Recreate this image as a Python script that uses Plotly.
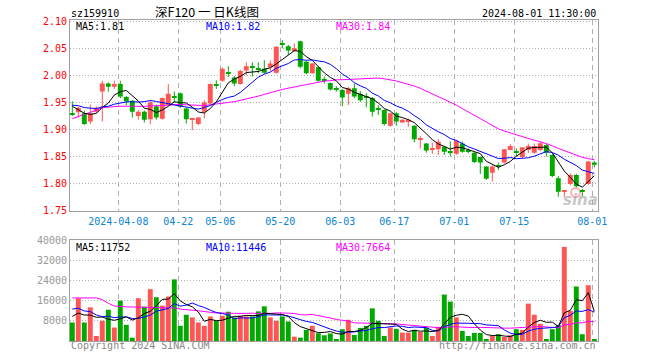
import pandas as pd
import plotly.graph_objects as go

# ---------------- data ----------------
symbol = "sz159910"
title_text = "深F120 一 日K线图"
timestamp = "2024-08-01 11:30:00"

holidays = ["2024-04-04", "2024-04-05", "2024-05-01", "2024-05-02", "2024-05-03", "2024-06-10"]
dates = pd.bdate_range("2024-03-25", "2024-08-01", freq="C", holidays=holidays)

open_ = [1.930, 1.932, 1.930, 1.915, 1.933, 1.970, 1.985, 1.979, 1.984, 1.960,
         1.953, 1.925, 1.933, 1.919, 1.943, 1.920, 1.945, 1.962, 1.967, 1.939,
         1.918, 1.910, 1.933, 1.948, 1.983, 1.990, 2.006, 1.996, 1.984, 2.009,
         2.017, 2.013, 2.012, 2.015, 2.005, 2.059, 2.054, 2.045, 2.063, 2.025,
         2.004, 2.015, 1.992, 1.986, 1.975, 1.973, 1.966, 1.976, 1.966, 1.961,
         1.958, 1.938, 1.936, 1.907, 1.930, 1.913, 1.914, 1.907, 1.881, 1.874,
         1.863, 1.8635, 1.868, 1.858, 1.855, 1.874, 1.861, 1.857, 1.849, 1.8315,
         1.820, 1.832, 1.839, 1.862, 1.859, 1.849, 1.862, 1.857, 1.862, 1.8715,
         1.853, 1.810, 1.785, 1.7995, 1.816, 1.786, 1.7995, 1.839]
high = [1.952, 1.942, 1.935, 1.946, 1.943, 1.990, 1.987, 1.990, 1.990, 1.962,
        1.954, 1.936, 1.935, 1.953, 1.946, 1.959, 1.984, 1.970, 1.968, 1.940,
        1.921, 1.923, 1.954, 1.985, 1.991, 2.015, 2.017, 1.999, 2.010, 2.024,
        2.024, 2.024, 2.028, 2.028, 2.054, 2.065, 2.056, 2.059, 2.064, 2.027,
        2.023, 2.016, 1.998, 1.987, 1.980, 1.975, 1.979, 1.985, 1.971, 1.967,
        1.960, 1.945, 1.937, 1.931, 1.932, 1.919, 1.920, 1.908, 1.888, 1.875,
        1.876, 1.882, 1.870, 1.878, 1.881, 1.878, 1.865, 1.858, 1.850, 1.832,
        1.834, 1.839, 1.864, 1.873, 1.865, 1.867, 1.874, 1.874, 1.878, 1.873,
        1.855, 1.814, 1.786, 1.819, 1.818, 1.790, 1.842, 1.842]
low = [1.925, 1.922, 1.908, 1.910, 1.930, 1.915, 1.970, 1.975, 1.958, 1.945,
       1.922, 1.918, 1.913, 1.910, 1.918, 1.918, 1.944, 1.950, 1.940, 1.911,
       1.899, 1.908, 1.921, 1.946, 1.975, 1.988, 1.997, 1.980, 1.983, 2.000,
       1.998, 2.004, 2.003, 2.007, 2.003, 2.050, 2.038, 2.044, 2.013, 2.002,
       2.003, 1.988, 1.985, 1.972, 1.970, 1.943, 1.945, 1.958, 1.951, 1.941,
       1.924, 1.927, 1.907, 1.905, 1.907, 1.912, 1.905, 1.876, 1.865, 1.857,
       1.855, 1.853, 1.853, 1.850, 1.853, 1.857, 1.856, 1.838, 1.818, 1.807,
       1.804, 1.825, 1.837, 1.861, 1.850, 1.847, 1.857, 1.855, 1.860, 1.850,
       1.812, 1.776, 1.775, 1.797, 1.793, 1.776, 1.798, 1.830]
close = [1.928, 1.940, 1.910, 1.930, 1.940, 1.985, 1.979, 1.984, 1.961, 1.952,
         1.933, 1.933, 1.918, 1.950, 1.922, 1.958, 1.966, 1.960, 1.942, 1.919,
         1.919, 1.922, 1.950, 1.984, 1.981, 2.012, 2.004, 1.985, 2.008, 2.017,
         2.015, 2.011, 2.005, 2.022, 2.053, 2.057, 2.046, 2.050, 2.016, 2.004,
         2.022, 1.990, 1.991, 1.974, 1.974, 1.959, 1.976, 1.961, 1.954, 1.960,
         1.933, 1.937, 1.910, 1.930, 1.915, 1.918, 1.918, 1.882, 1.882, 1.861,
         1.864, 1.8776, 1.859, 1.857, 1.879, 1.859, 1.860, 1.840, 1.839, 1.809,
         1.8315, 1.831, 1.8635, 1.8696, 1.858, 1.867, 1.8696, 1.8696, 1.8745, 1.857,
         1.814, 1.785, 1.786, 1.816, 1.795, 1.785, 1.841, 1.835]
volume = [7330, 16930, 7330, 13330, 2000, 8000, 12400, 5330, 16000, 6400,
          1330, 16930, 13600, 20530, 17330, 14000, 17600, 24400, 6000, 10400,
          9330, 7330, 6000, 9730, 8000, 10000, 11600, 9330, 10000, 9730,
          9730, 11730, 13730, 9330, 8000, 9730, 7730, 1730, 1330, 4400,
          6000, 3070, 2270, 3000, 400, 4670, 8400, 2400, 5200, 6000,
          12930, 8000, 2000, 5330, 4800, 3330, 3330, 4400, 3600, 5320,
          2000, 5600, 18400, 15600, 9330, 4000, 2000, 3200, 3200, 400,
          2000, 2670, 1600, 2270, 4670, 4400, 14800, 10400, 6800, 670,
          4670, 6270, 37290, 12000, 21600, 2670, 22090, 400]

# sessions before the visible window (only used to seed the moving averages)
prior_close = [1.800, 1.810, 1.820, 1.830, 1.845, 1.940, 1.945, 1.949,
               1.950, 1.940, 1.930, 1.925, 1.920, 1.930, 1.940, 1.935, 1.930, 1.935, 1.940, 1.936,
               1.950, 1.945, 1.940, 1.950, 1.950, 1.970, 1.945, 1.940, 1.932]
prior_volume = [16930, 7330, 13330, 2000, 27800, 56500, 37430, 23800,
                8000, 4000, 19000, 15000, 22000, 18000, 16000, 19000, 26000, 20000, 14000, 18980,
                14000, 18000, 16050, 15000, 15000, 10230, 11330, 13330, 6430]

tick_dates = ["2024-04-08", "2024-04-22", "2024-05-06", "2024-05-20", "2024-06-03",
              "2024-06-17", "2024-07-01", "2024-07-15", "2024-08-01"]
tick_labels = ["2024-04-08", "04-22", "05-06", "05-20", "06-03", "06-17", "07-01", "07-15", "08-01"]
price_ticks = [1.75, 1.80, 1.85, 1.90, 1.95, 2.00, 2.05, 2.10]
volume_ticks = [8000, 16000, 24000, 32000, 40000]

# ---------------- styling ----------------
RED = "#ff5555"
GREEN = "#00a800"
MA_COLORS = {5: "#000000", 10: "#0000ff", 30: "#ff00ff"}
MONO = "DejaVu Sans Mono"
FRAME = "#a0a0a0"
GRID = "#b0b0b0"

W, H = 660, 360
ML, MR, MT, MB = 70, 62, 20, 19
PW, PH = W - ML - MR, H - MT - MB


def px(x):
    return (x - ML) / PW


def py(y):
    return (H - MB - y) / PH


def ma(prior, vals, n):
    s = pd.Series(list(prior) + list(vals), dtype=float)
    return s.rolling(n).mean().iloc[len(prior):].tolist()


n = len(close)
xs = list(range(n))
up = [c >= o for o, c in zip(open_, close)]
colors = [RED if u else GREEN for u in up]

fig = go.Figure()

# wicks
for flag, col in ((True, RED), (False, GREEN)):
    wx, wy = [], []
    for i in range(n):
        if up[i] == flag:
            wx += [i, i, None]
            wy += [low[i], high[i], None]
    fig.add_trace(go.Scatter(x=wx, y=wy, mode="lines", line=dict(color=col, width=1),
                             hoverinfo="skip", xaxis="x", yaxis="y"))

# bodies
MIN_BODY = 0.0019
for flag, col in ((True, RED), (False, GREEN)):
    bx, bbase, bh = [], [], []
    for i in range(n):
        if up[i] == flag:
            bx.append(i)
            bbase.append(min(open_[i], close[i]))
            bh.append(max(abs(close[i] - open_[i]), MIN_BODY))
    fig.add_trace(go.Bar(x=bx, y=bh, base=bbase, width=0.82, marker=dict(color=col, line=dict(width=0)),
                         xaxis="x", yaxis="y", hoverinfo="skip"))

# price moving averages
pma = {k: ma(prior_close, close, k) for k in (5, 10, 30)}
for k in (30, 10, 5):
    fig.add_trace(go.Scatter(x=xs, y=pma[k], mode="lines", line=dict(color=MA_COLORS[k], width=1),
                             xaxis="x", yaxis="y", hoverinfo="skip"))

# volume bars
fig.add_trace(go.Bar(x=xs, y=volume, width=0.82, marker=dict(color=colors, line=dict(width=0)),
                     xaxis="x2", yaxis="y2", hoverinfo="skip"))
vma = {k: ma(prior_volume, volume, k) for k in (5, 10, 30)}
for k in (30, 10, 5):
    fig.add_trace(go.Scatter(x=xs, y=vma[k], mode="lines", line=dict(color=MA_COLORS[k], width=1),
                             xaxis="x2", yaxis="y2", hoverinfo="skip"))

date_index = {d.strftime("%Y-%m-%d"): i for i, d in enumerate(dates)}
tick_pos = [date_index[d] - 0.33 for d in tick_dates]

xrange_ = [-0.383, n - 1 + 0.617]
price_bottom_px, price_top_px = 210.7, 20
price_scale = (2.05 - 1.75) / (210.7 - 48.3)
price_range = [1.75, 1.75 + (price_bottom_px - price_top_px) * price_scale]

axis_common = dict(showline=True, linecolor=FRAME, linewidth=1, mirror=True, zeroline=False)

fig.update_layout(
    width=W, height=H,
    margin=dict(l=ML, r=MR, t=MT, b=MB, pad=0),
    paper_bgcolor="white", plot_bgcolor="white",
    showlegend=False, barmode="overlay", hovermode=False,
    xaxis=dict(domain=[0, 1], range=xrange_, anchor="y", tickmode="array",
               tickvals=tick_pos, ticktext=tick_labels, ticks="",
               tickfont=dict(family=MONO, size=10, color="#0a84d2"),
               showgrid=True, gridcolor=GRID, gridwidth=1, griddash="5px,4px",
               ticklabelstandoff=1, **axis_common),
    xaxis2=dict(domain=[0, 1], range=xrange_, anchor="y2", tickmode="array",
                tickvals=tick_pos, showticklabels=False, ticks="",
                showgrid=True, gridcolor=GRID, gridwidth=1, griddash="5px,4px", **axis_common),
    yaxis=dict(domain=[py(price_bottom_px), 1], range=price_range, tickmode="array",
               tickvals=price_ticks, ticktext=[f"{v:.2f}" for v in price_ticks], ticks="",
               tickfont=dict(family=MONO, size=10, color="#ff0000"),
               showgrid=True, gridcolor=GRID, gridwidth=1, griddash="1px,2px",
               ticklabelstandoff=0, **axis_common),
    yaxis2=dict(domain=[0, py(240)], range=[0, 40000], tickmode="array",
                tickvals=volume_ticks, ticktext=[str(v) for v in volume_ticks], ticks="",
                tickfont=dict(family=MONO, size=10, color="#999999"),
                showgrid=True, gridcolor=GRID, gridwidth=1, griddash="1px,2px",
                ticklabelstandoff=0, **axis_common),
)

ann = []


def add_text(text, x, y, xanchor="left", color="#000000", size=10, family=MONO):
    ann.append(dict(text=text, x=px(x), y=py(y), xref="paper", yref="paper",
                    xanchor=xanchor, yanchor="middle", showarrow=False,
                    font=dict(family=family, size=size, color=color)))


add_text(symbol, 69, 13)
add_text(title_text, 206.7, 11.5, xanchor="center", size=12.5, family="Noto Sans CJK SC")
add_text(timestamp, 598, 13, xanchor="right")

add_text(f"MA5:{pma[5][-1]:.2f}", 74, 26.5, color=MA_COLORS[5])
add_text(f"MA10:{pma[10][-1]:.2f}", 204, 26.5, color=MA_COLORS[10])
add_text(f"MA30:{pma[30][-1]:.2f}", 334, 26.5, color=MA_COLORS[30])

add_text(f"MA5:{vma[5][-1]:.0f}", 74, 247, color=MA_COLORS[5])
add_text(f"MA10:{vma[10][-1]:.0f}", 204, 247, color=MA_COLORS[10])
add_text(f"MA30:{vma[30][-1]:.0f}", 334, 247, color=MA_COLORS[30])

add_text("Copyright 2024 SINA.COM", 69, 345, color="#888888")
add_text("http://finance.sina.com.cn", 598, 345, xanchor="right", color="#888888")

add_text("<b><i>sina</i></b>", 580, 200, xanchor="center", size=15, family="DejaVu Sans",
         color="rgba(150,150,150,0.55)")

fig.update_layout(annotations=ann)
fig.add_shape(type="circle", xref="paper", yref="paper",
              x0=px(571), x1=px(580), y0=py(197), y1=py(188),
              line=dict(color="rgba(255,90,90,0.45)", width=2), layer="below")

fig.write_html("out.html", config={"displayModeBar": False},
               post_script="document.body.style.margin='0';")
